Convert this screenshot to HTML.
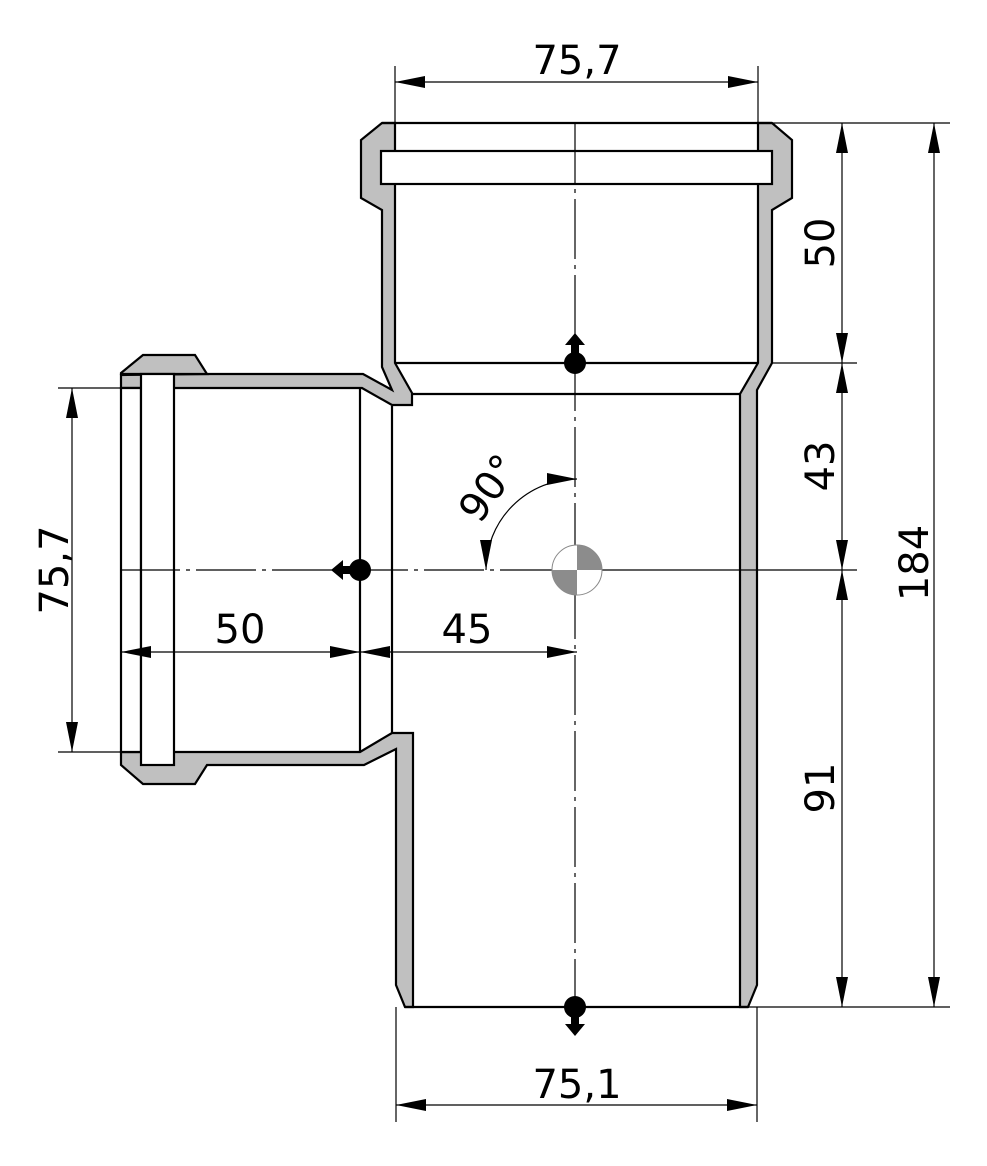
<!DOCTYPE html>
<html><head><style>body{margin:0;background:#fff}svg{display:block}text{font-family:"DejaVu Sans","Liberation Sans",sans-serif;font-size:40px;fill:#000}</style></head><body>
<svg width="987" height="1166" viewBox="0 0 987 1166" xmlns="http://www.w3.org/2000/svg">
<defs>
<marker id="a" viewBox="0 0 30 12" refX="30" refY="6" markerWidth="30" markerHeight="12" markerUnits="userSpaceOnUse" orient="auto"><path d="M0,0L30,6L0,12z" fill="#000"/></marker>
<marker id="b" viewBox="0 0 30 12" refX="0" refY="6" markerWidth="30" markerHeight="12" markerUnits="userSpaceOnUse" orient="auto"><path d="M30,0L0,6L30,12z" fill="#000"/></marker>
</defs>
<g stroke="#000" stroke-width="2.2" fill="#c0c0c0" stroke-linejoin="miter">
<path d="M382,123 L395,123 L395,363 L412,393 L412,405 L392,405 L362,388 L121,388 L121,375 L207,374 L363,374 L392,390 L382,367 L382,210 L361,198 L361,140 Z"/>
<path d="M758,123 L772,123 L792,140 L792,198 L772,210 L772,363 L757,390 L757,985 L748,1007 L740,1007 L740,394 L758,363 Z"/>
<path d="M121,373 L143,355 L195,355 L207,374 L121,374 Z"/>
<path d="M121,752 L360,752 L392,733 L413,733 L413,1007 L405,1007 L396,985 L396,749 L364,765 L207,765 L195,784 L143,784 L121,765 Z"/>
<path d="M121,388 L141,388 L141,752 L121,752 Z" fill="#fff"/>
</g>
<g stroke="#000" stroke-width="2.2" fill="#fff">
<line x1="382" y1="123" x2="772" y2="123"/>
<rect x="381" y="151" width="391" height="33"/>
<rect x="141" y="374" width="33" height="391"/>
<line x1="395" y1="363" x2="758" y2="363"/>
<line x1="412" y1="394" x2="740" y2="394"/>
<line x1="360" y1="388" x2="360" y2="752"/>
<line x1="392" y1="406" x2="392" y2="733"/>
<line x1="405" y1="1007" x2="748" y2="1007"/>
</g>
<g stroke="#000" stroke-width="1.2" fill="none">
<line x1="575" y1="123" x2="575" y2="1030" stroke-dasharray="60,6,4,6"/>
<line x1="120" y1="570" x2="577" y2="570" stroke-dasharray="60,6,4,6"/>
<line x1="577" y1="570" x2="760" y2="570"/>
</g>
<circle cx="577" cy="570" r="25" fill="#fff" stroke="#888" stroke-width="1"/>
<path d="M577,570 L577,545 A25,25 0 0 1 602,570 Z" fill="#8c8c8c"/>
<path d="M577,570 L577,595 A25,25 0 0 1 552,570 Z" fill="#8c8c8c"/>
<g fill="#000">
<circle cx="575" cy="363" r="11"/><path d="M571,360 L571,345 L565,345 L575,333 L585,345 L579,345 L579,360Z"/>
<circle cx="575" cy="1007" r="11"/><path d="M571,1010 L571,1024 L565,1024 L575,1036 L585,1024 L579,1024 L579,1010Z"/>
<circle cx="360" cy="570" r="11"/><path d="M357,566 L343,566 L343,560 L331,570 L343,580 L343,574 L357,574Z"/>
</g>
<g stroke="#000" stroke-width="1.2">
<line x1="395" y1="66" x2="395" y2="123"/><line x1="758" y1="66" x2="758" y2="123"/>
<line x1="396" y1="1007" x2="396" y2="1122"/><line x1="757" y1="1007" x2="757" y2="1122"/>
<line x1="772" y1="123" x2="950" y2="123"/><line x1="772" y1="363" x2="857" y2="363"/>
<line x1="760" y1="570" x2="857" y2="570"/><line x1="748" y1="1007" x2="950" y2="1007"/>
<line x1="58" y1="388" x2="121" y2="388"/><line x1="58" y1="752" x2="121" y2="752"/>
<line x1="121" y1="640" x2="121" y2="765"/>
</g>
<g stroke="#000" stroke-width="1.2" marker-start="url(#b)" marker-end="url(#a)">
<line x1="395" y1="82" x2="758" y2="82"/>
<line x1="396" y1="1105" x2="757" y2="1105"/>
<line x1="842" y1="123" x2="842" y2="363"/>
<line x1="842" y1="363" x2="842" y2="570"/>
<line x1="842" y1="570" x2="842" y2="1007"/>
<line x1="934" y1="123" x2="934" y2="1007"/>
<line x1="72" y1="388" x2="72" y2="752"/>
<line x1="121" y1="652" x2="360" y2="652"/>
<line x1="360" y1="652" x2="577" y2="652"/>
<path d="M486,570 A91,91 0 0 1 577,479" fill="none"/>
</g>
<text x="577" y="74" text-anchor="middle">75,7</text>
<text x="577" y="1098" text-anchor="middle">75,1</text>
<text x="240" y="643" text-anchor="middle">50</text>
<text x="467" y="643" text-anchor="middle">45</text>
<text transform="translate(834,243) rotate(-90)" text-anchor="middle">50</text>
<text transform="translate(834,466) rotate(-90)" text-anchor="middle">43</text>
<text transform="translate(834,788) rotate(-90)" text-anchor="middle">91</text>
<text transform="translate(928,563) rotate(-90)" text-anchor="middle">184</text>
<text transform="translate(68,570) rotate(-90)" text-anchor="middle">75,7</text>
<text transform="translate(500,496) rotate(-55)" text-anchor="middle">90°</text>
</svg>
</body></html>
